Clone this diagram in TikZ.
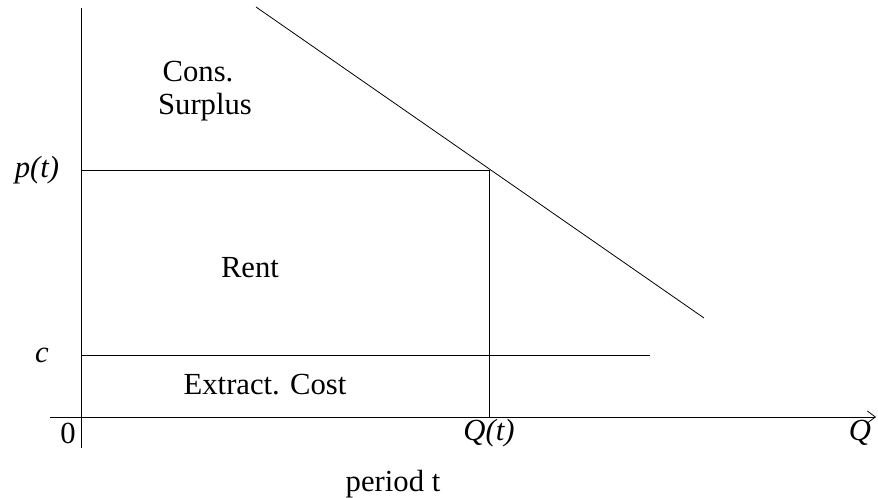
\documentclass[tikz,border=0pt]{standalone}
\usepackage{fontspec}
\setmainfont{Liberation Serif}
\usetikzlibrary{arrows.meta}
\begin{document}
\begin{tikzpicture}[x=0.75pt,y=-0.75pt,
  ln/.style={line width=0.6pt},
  lbl/.style={font=\fontsize{23}{27}\selectfont, inner sep=0pt}]
\useasboundingbox (0,0) rectangle (878,498);
% coordinates
\coordinate (ytop) at (81,8);
\coordinate (ybot) at (81,448);
\coordinate (xl) at (50,417);
\coordinate (xr) at (876,417);
\coordinate (pl) at (81,170);
\coordinate (pr) at (489,170);
\coordinate (qb) at (489,417);
\coordinate (cl) at (81,355);
\coordinate (cr) at (650,355);
\coordinate (d1) at (256,7);
\coordinate (d2) at (704,318);
% axes
\draw[ln] (ytop) -- (ybot);
\draw[ln,-{Straight Barb[length=6pt,width=9pt]}] (xl) -- (xr);
% lines
\draw[ln] (pl) -- (pr);
\draw[ln] (pr) -- (qb);
\draw[ln] (cl) -- (cr);
\draw[ln] (d1) -- (d2);
% labels
\node[lbl] (cons) at (198,72) {Cons.};
\node[lbl] (surp) at (205,107) {Surplus};
\node[lbl] (pt) at (37,170) {\textit{p(t)}};
\node[lbl] (rent) at (250,268) {Rent};
\node[lbl] (c) at (42,355) {\textit{c}};
\node[lbl] (ext) at (265,385) {Extract. Cost};
\node[lbl] (zero) at (68,433) {0};
\node[lbl] (qt) at (489,433) {\textit{Q(t)}};
\node[lbl] (q) at (860,433) {\textit{Q}};
\node[lbl] (per) at (393,484) {period t};
\end{tikzpicture}
\end{document}
